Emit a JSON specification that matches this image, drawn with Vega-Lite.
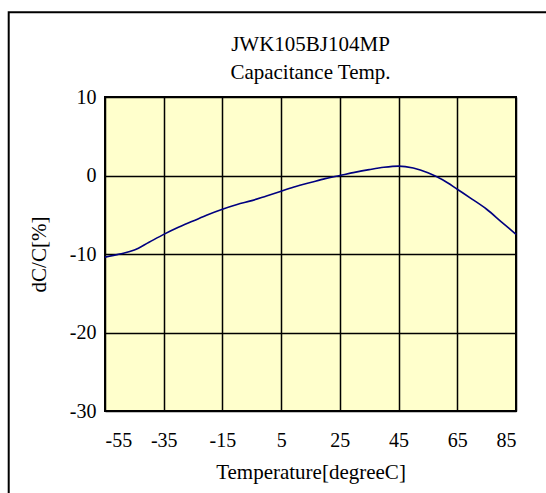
{
  "$schema": "https://vega.github.io/schema/vega-lite/v6.json",
  "width": 411,
  "height": 314,
  "autosize": {"type": "none"},
  "padding": {"left": 105, "top": 97, "right": 30, "bottom": 82},
  "background": "white",
  "title": {
    "text": ["JWK105BJ104MP", "Capacitance Temp."],
    "font": "Liberation Serif",
    "fontSize": 21,
    "fontWeight": "normal",
    "color": "black",
    "lineHeight": 28,
    "anchor": "middle",
    "frame": "group",
    "offset": -72
  },
  "config": {
    "view": {"stroke": "black", "strokeWidth": 2, "fill": "#FFFFCC"},
    "axis": {
      "labelFont": "Liberation Serif",
      "titleFont": "Liberation Serif",
      "labelFontSize": 20,
      "titleFontSize": 21,
      "titleFontWeight": "normal",
      "labelColor": "black",
      "titleColor": "black",
      "grid": true,
      "gridColor": "black",
      "gridOpacity": 1,
      "gridWidth": 1.5,
      "domain": false,
      "ticks": false,
      "labelExpr": "toString(datum.value)"
    }
  },
  "data": {
    "values": [
      {"t": -55, "v": -10.4},
      {"t": -50, "v": -10.0},
      {"t": -45, "v": -9.5},
      {"t": -40, "v": -8.5},
      {"t": -35, "v": -7.5},
      {"t": -30, "v": -6.6},
      {"t": -25, "v": -5.8},
      {"t": -20, "v": -5.0},
      {"t": -15, "v": -4.3},
      {"t": -10, "v": -3.7},
      {"t": -5, "v": -3.2},
      {"t": 0, "v": -2.6},
      {"t": 5, "v": -2.0},
      {"t": 10, "v": -1.4},
      {"t": 15, "v": -0.9},
      {"t": 20, "v": -0.4},
      {"t": 25, "v": 0.0},
      {"t": 30, "v": 0.4},
      {"t": 35, "v": 0.75},
      {"t": 40, "v": 1.05},
      {"t": 45, "v": 1.2},
      {"t": 50, "v": 0.95},
      {"t": 55, "v": 0.35},
      {"t": 60, "v": -0.55},
      {"t": 65, "v": -1.75},
      {"t": 70, "v": -3.0},
      {"t": 75, "v": -4.3},
      {"t": 80, "v": -5.9},
      {"t": 85, "v": -7.5}
    ]
  },
  "layer": [
    {
      "mark": {"type": "line", "color": "#000080", "strokeWidth": 1.6, "interpolate": "monotone"},
      "encoding": {
        "x": {
          "field": "t",
          "type": "quantitative",
          "scale": {"domain": [-55, 85], "nice": false, "zero": false},
          "axis": {"values": [-55, -35, -15, 5, 25, 45, 65, 85], "title": "Temperature[degreeC]", "labelPadding": 19, "titlePadding": 11}
        },
        "y": {
          "field": "v",
          "type": "quantitative",
          "scale": {"domain": [-30, 10], "nice": false, "zero": false},
          "axis": {"values": [-30, -20, -10, 0, 10], "title": "dC/C[%]", "labelPadding": 9, "titlePadding": 20}
        }
      }
    },
    {
      "data": {"values": [{"frame": "outer"}]},
      "mark": {"type": "rect", "fill": null, "fillOpacity": 0, "stroke": "black", "strokeWidth": 2, "clip": false},
      "encoding": {
        "x": {"datum": -87.8, "type": "quantitative"},
        "x2": {"datum": 120},
        "y": {"datum": 20.8, "type": "quantitative"},
        "y2": {"datum": -42}
      }
    }
  ]
}
